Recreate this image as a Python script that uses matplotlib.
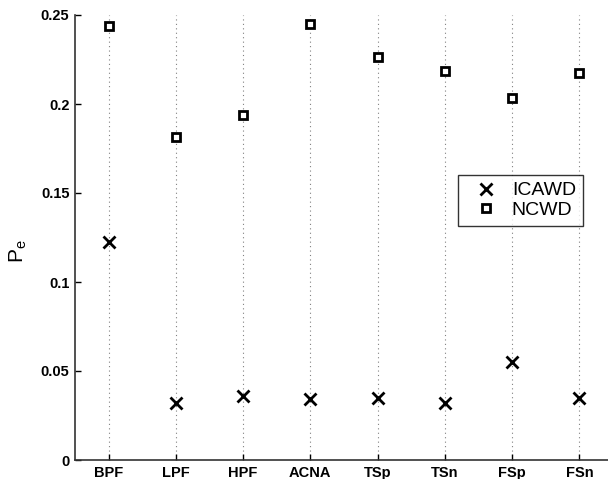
import matplotlib
matplotlib.use('Agg')
import matplotlib.pyplot as plt

plt.rcParams['font.family'] = ['Liberation Sans', 'DejaVu Sans']

CATEGORIES = ['BPF', 'LPF', 'HPF', 'ACNA', 'TSp', 'TSn', 'FSp', 'FSn']
ICAWD = [0.1225, 0.0318, 0.0361, 0.0341, 0.0347, 0.0318, 0.0549, 0.0347]
NCWD = [0.2438, 0.1815, 0.1938, 0.2448, 0.2262, 0.2185, 0.2035, 0.2174]
YTICKS = [0, 0.05, 0.1, 0.15, 0.2, 0.25]
YTICKLABELS = ['0', '0.05', '0.1', '0.15', '0.2', '0.25']

fig = plt.figure(figsize=(6.08, 4.79), dpi=100)
ax = fig.add_axes([75 / 608, 19 / 479, 538 / 608, 445 / 479])

x = list(range(1, len(CATEGORIES) + 1))
for xi in x:
    ax.plot([xi, xi], [0, 0.25], color='#808080', linestyle=(0, (1, 3)),
            linewidth=0.8, zorder=0)

ax.plot(x, ICAWD, linestyle='none', marker='x', markersize=9,
        markeredgewidth=2, color='black', label='ICAWD')
ax.plot(x, NCWD, linestyle='none', marker='s', markersize=6,
        markeredgewidth=2, markerfacecolor='white', color='black',
        label='NCWD')

ax.set_xlim(0.5, 8.5)
ax.set_ylim(0, 0.25)
ax.set_xticks(x)
ax.set_xticklabels(CATEGORIES, fontsize=10.5, fontweight='bold')
ax.set_yticks(YTICKS)
ax.set_yticklabels(YTICKLABELS, fontsize=10.5, fontweight='bold')
ax.tick_params(direction='in', length=4, width=1, pad=4)

for side in ['top', 'right']:
    ax.spines[side].set_visible(False)
for side in ['left', 'bottom']:
    ax.spines[side].set_linewidth(1.2)
    ax.spines[side].set_color('#333333')

ax.set_ylabel(r'P$_{\mathregular{e}}$', fontsize=15)
ax.yaxis.set_label_coords(-0.085, 0.47)

leg = ax.legend(loc='upper left', bbox_to_anchor=(383 / 538, 1 - 160 / 445),
                fontsize=14, frameon=True, fancybox=False,
                edgecolor='black', handlelength=2.16, borderpad=0.35,
                labelspacing=0.1, handletextpad=0.26, borderaxespad=0)
leg.get_frame().set_linewidth(1)

fig.savefig('out.png', dpi=100)
